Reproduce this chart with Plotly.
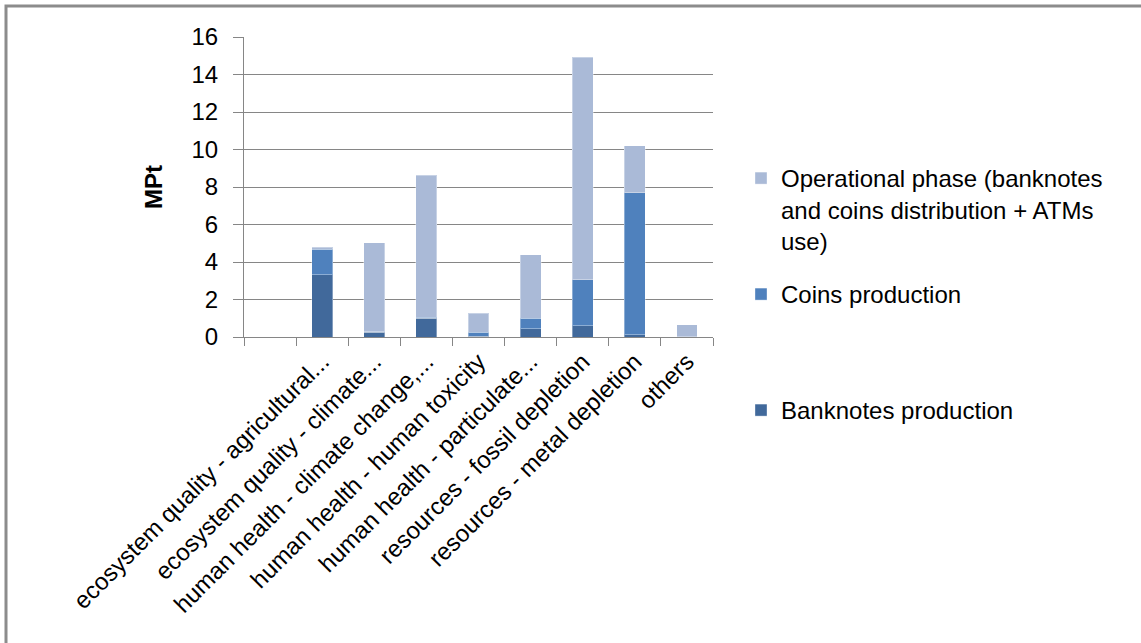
import plotly.graph_objects as go

# Impact categories (first slot is an empty category)
categories = [
    " ",
    "ecosystem quality - agricultural...",
    "ecosystem quality - climate...",
    "human health - climate change,...",
    "human health - human toxicity",
    "human health - particulate...",
    "resources - fossil depletion",
    "resources - metal depletion",
    "others",
]

# Stacked contributions in MPt
banknotes = [None, 3.33, 0.25, 1.01, 0.05, 0.44, 0.60, 0.12, 0.01]
coins = [None, 1.35, 0.03, 0.05, 0.20, 0.57, 2.45, 7.57, 0.00]
operational = [None, 0.11, 4.74, 7.56, 1.03, 3.37, 11.88, 2.52, 0.64]

series_names = [
    "Banknotes production",
    "Coins production",
    "Operational phase (banknotes<br>and coins distribution + ATMs<br>use)",
]
series_colors = ["#41699B", "#4F81BD", "#AABAD7"]
y_ticks = [0, 2, 4, 6, 8, 10, 12, 14, 16]

FONT = "Liberation Sans"
W, H = 1141, 643
L, R, T, B = 244, 428, 37, 306
PW, PH = W - L - R, H - T - B


def px_x(px):
    return (px - L) / PW


def px_y(py):
    return (H - B - py) / PH


fig = go.Figure()
for name, vals, col, leg in zip(series_names, [banknotes, coins, operational],
                                series_colors, ["legend3", "legend2", "legend"]):
    fig.add_trace(go.Bar(
        x=categories, y=vals, name=name,
        marker=dict(color=col, line=dict(color="rgba(255,255,255,0.35)", width=1)),
        legend=leg, showlegend=True,
    ))

legend_common = dict(
    font=dict(family=FONT, size=24, color="#000000"),
    bgcolor="rgba(0,0,0,0)", xanchor="left", yanchor="top",
    valign="top", itemclick=False, itemdoubleclick=False,
)
LEG_X = 741
fig.update_layout(
    width=W, height=H,
    margin=dict(l=L, r=R, t=T, b=B, autoexpand=False),
    paper_bgcolor="white", plot_bgcolor="white",
    barmode="stack", bargap=0.6, showlegend=True,
    font=dict(family=FONT, size=24, color="#000000"),
    legend=dict(x=px_x(LEG_X), y=px_y(156), **legend_common),
    legend2=dict(x=px_x(LEG_X), y=px_y(272), **legend_common),
    legend3=dict(x=px_x(LEG_X), y=px_y(388), **legend_common),
    xaxis=dict(
        type="category", categoryarray=categories, categoryorder="array",
        range=[-0.5, len(categories) - 0.5],
        tickangle=-45, tickson="boundaries", ticks="outside", ticklen=8,
        tickcolor="#868686", showline=True, linecolor="#868686", linewidth=1,
        showgrid=False, tickfont=dict(family=FONT, size=24, color="#000000"),
        automargin=False,
    ),
    yaxis=dict(
        range=[0, 16], tickvals=y_ticks, ticktext=[str(v) for v in y_ticks],
        ticks="outside", ticklen=10, tickcolor="#868686",
        showgrid=True, gridcolor="#868686", gridwidth=1,
        showline=True, linecolor="#868686", linewidth=1,
        zeroline=False, ticklabelstandoff=10,
        tickfont=dict(family=FONT, size=24, color="#000000"),
        title=dict(text="<b>MPt</b>", standoff=22,
                   font=dict(family=FONT, size=24, color="#000000")),
        automargin=False,
    ),
    shapes=[dict(
        type="rect", xref="paper", yref="paper",
        x0=px_x(6), x1=px_x(W + 10), y0=px_y(H + 10), y1=px_y(6),
        line=dict(color="#8C8C8C", width=3), fillcolor="rgba(0,0,0,0)",
        layer="below",
    )],
)

fig.write_html("out.html")
